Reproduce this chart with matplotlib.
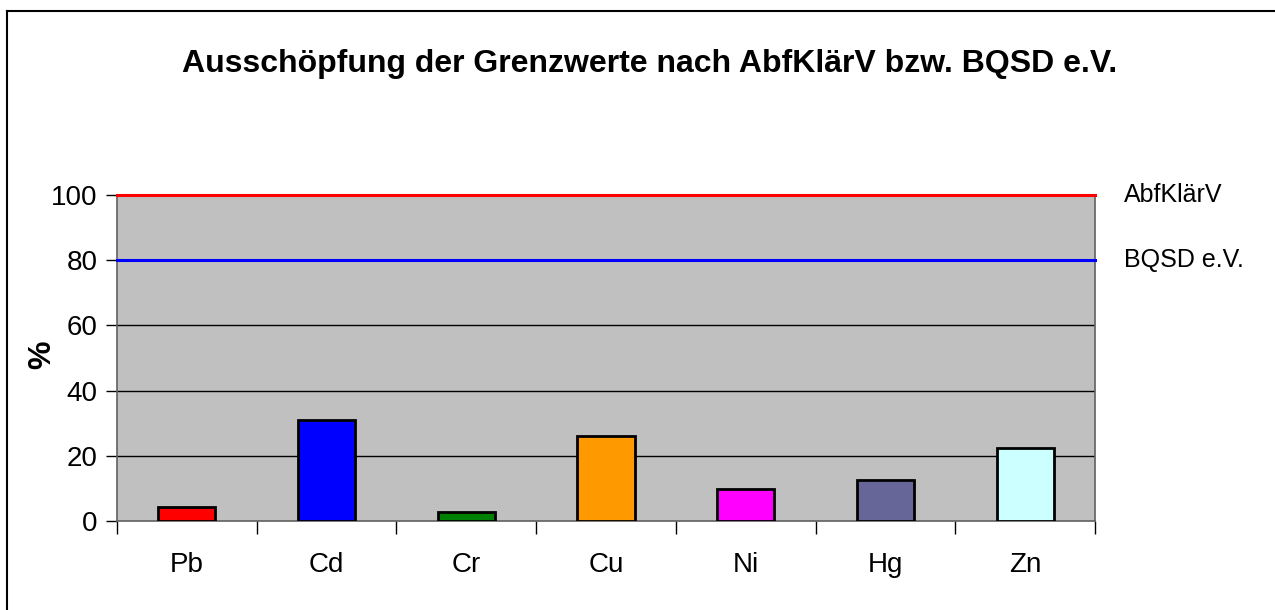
import matplotlib
matplotlib.use("Agg")
import matplotlib.pyplot as plt
from matplotlib.lines import Line2D

categories = ["Pb", "Cd", "Cr", "Cu", "Ni", "Hg", "Zn"]
values = [4.3, 31.0, 2.7, 26.2, 9.8, 12.5, 22.5]
bar_colors = ["#FF0000", "#0000FF", "#008000", "#FF9900", "#FF00FF", "#666699", "#CCFFFF"]
limit_names = ["AbfKlärV", "BQSD e.V."]
limit_values = [100, 80]
limit_colors = ["#FF0000", "#0000FF"]
yticks = [0, 20, 40, 60, 80, 100]
title = "Ausschöpfung der Grenzwerte nach AbfKlärV bzw. BQSD e.V."

plt.rcParams['font.family'] = ['Liberation Sans', 'DejaVu Sans']

fig = plt.figure(figsize=(12.75, 6.10), dpi=100)
ax = fig.add_axes([117/1275, 1 - 521/610, (1095 - 117)/1275, (521 - 195)/610])
ax.set_facecolor("#C0C0C0")

x = list(range(len(categories)))
ax.set_xlim(-0.5, len(categories) - 0.5)
ax.set_ylim(0, 100)

for yv in [20, 40, 60]:
    ax.axhline(yv, color="black", lw=1.0, zorder=1)

ax.bar(x, values, width=0.41, color=bar_colors, edgecolor="black", linewidth=2.0, zorder=3)

for name, val, col in zip(limit_names, limit_values, limit_colors):
    ax.plot([-0.5, len(categories) - 0.5], [val, val], color=col, lw=2.2, zorder=4, clip_on=False)
    ax.text(1.03, val, name, transform=ax.get_yaxis_transform(), fontsize=18,
            va="center", ha="left")

ax.set_yticks(yticks)
ax.set_yticklabels([str(v) for v in yticks], fontsize=20)
ax.set_xticks(x)
ax.set_xticklabels(categories, fontsize=20)
ax.tick_params(axis="x", which="major", length=0, pad=22)
ax.set_xticks([i - 0.5 for i in range(len(categories) + 1)], minor=True)
ax.tick_params(axis="x", which="minor", length=9, width=1, color="black", direction="out")
ax.tick_params(axis="y", length=8, width=1, color="black", direction="out", pad=6)

for s in ["left", "bottom", "right"]:
    ax.spines[s].set_color("#606060")
    ax.spines[s].set_linewidth(1.2)
ax.spines["top"].set_visible(False)

fig.text(42/1275, 1 - 355/610, "%", fontsize=23, fontweight="bold", rotation=90,
         ha="center", va="center")

fig.text(650/1275, 1 - 64/610, title, fontsize=23, fontweight="bold", ha="center", va="center")

fig.add_artist(Line2D([7/1275, 7/1275], [0, 1 - 11/610], color="black", lw=1.5, transform=fig.transFigure))
fig.add_artist(Line2D([7/1275, 1], [1 - 11/610, 1 - 11/610], color="black", lw=1.5, transform=fig.transFigure))

fig.savefig("out.png", dpi=100)
